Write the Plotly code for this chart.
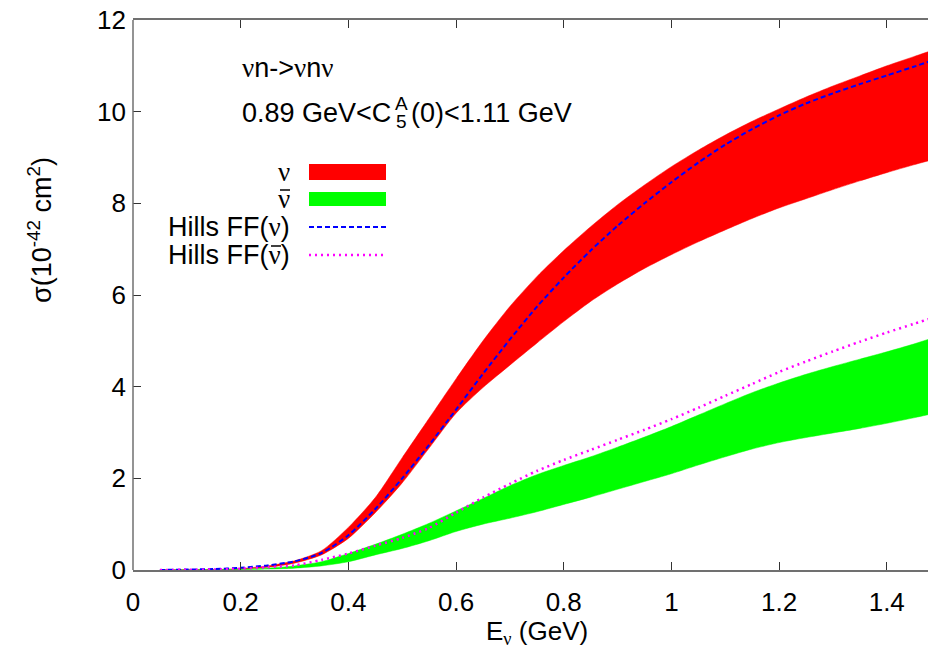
import plotly.graph_objects as go

# ---------------- data ----------------
E = [0.05, 0.10, 0.15, 0.20, 0.25, 0.30, 0.35, 0.40, 0.45, 0.50,
     0.55, 0.60, 0.65, 0.70, 0.75, 0.80, 0.85, 0.90, 0.95, 1.00,
     1.05, 1.10, 1.15, 1.20, 1.25, 1.30, 1.35, 1.40, 1.45, 1.50]

nu_hi = [0.0, 0.003, 0.01, 0.03, 0.09, 0.20, 0.42, 0.93, 1.58, 2.45,
         3.31, 4.17, 5.00, 5.75, 6.40, 6.97, 7.49, 7.97, 8.40, 8.80,
         9.16, 9.49, 9.79, 10.06, 10.32, 10.56, 10.78, 11.00, 11.20, 11.40]
nu_lo = [0.0, 0.002, 0.008, 0.02, 0.06, 0.15, 0.33, 0.69, 1.25, 1.90,
         2.66, 3.42, 3.98, 4.47, 4.95, 5.42, 5.86, 6.24, 6.58, 6.88,
         7.16, 7.42, 7.67, 7.90, 8.10, 8.30, 8.49, 8.67, 8.84, 9.00]
hills_nu = [0.0, 0.01, 0.02, 0.05, 0.10, 0.19, 0.37, 0.76, 1.33, 2.00,
            2.73, 3.50, 4.28, 5.03, 5.74, 6.38, 6.97, 7.51, 8.00, 8.46,
            8.89, 9.28, 9.62, 9.92, 10.18, 10.40, 10.60, 10.79, 10.98, 11.18]

anu_hi = [0.0, 0.002, 0.006, 0.015, 0.04, 0.09, 0.18, 0.36, 0.56, 0.78,
          1.02, 1.29, 1.56, 1.84, 2.08, 2.28, 2.47, 2.68, 2.90, 3.13,
          3.38, 3.63, 3.87, 4.08, 4.27, 4.44, 4.60, 4.76, 4.93, 5.12]
anu_lo = [0.0, 0.001, 0.004, 0.01, 0.02, 0.04, 0.09, 0.18, 0.33, 0.47,
          0.64, 0.84, 1.00, 1.13, 1.27, 1.43, 1.59, 1.76, 1.93, 2.10,
          2.29, 2.47, 2.64, 2.78, 2.89, 2.99, 3.09, 3.20, 3.32, 3.45]
hills_anu = [0.0, 0.005, 0.01, 0.03, 0.06, 0.10, 0.22, 0.36, 0.53, 0.70,
             0.92, 1.25, 1.58, 1.88, 2.16, 2.40, 2.62, 2.84, 3.06, 3.29,
             3.54, 3.80, 4.06, 4.32, 4.55, 4.77, 4.98, 5.18, 5.37, 5.56]

x_ticks = [0, 0.2, 0.4, 0.6, 0.8, 1.0, 1.2, 1.4]
x_ticktext = ["0", "0.2", "0.4", "0.6", "0.8", "1", "1.2", "1.4"]
y_ticks = [0, 2, 4, 6, 8, 10, 12]

# ---------------- layout geometry ----------------
# The page body has an 8px margin, so the figure is drawn 8px smaller and
# everything below is given in screen pixels of the 936x654 window.
OFF = 8
W, H = 936 - OFF, 654 - OFF
L, T, B_PX = 133, 20, 570          # plot-area left, top, bottom (screen pixels)
PW = 936 - L                        # plot-area width
PH = B_PX - T
XMAX = PW / 538.4                   # x axis is cut off by the image edge

def px(xp):
    return (xp - L) / PW

def py(yp):
    return (B_PX - yp) / PH

FONT = "Liberation Sans, Arial, Helvetica, sans-serif"
RED, GREEN, BLUE, MAGENTA = "#ff0000", "#00ff00", "#0000ff", "#ff00ff"
SM = 0.7

fig = go.Figure()

# nu band
fig.add_trace(go.Scatter(x=E, y=nu_lo, mode="lines",
                         line=dict(color=RED, width=0.5, shape="spline", smoothing=SM),
                         showlegend=False, hoverinfo="skip"))
fig.add_trace(go.Scatter(x=E, y=nu_hi, mode="lines",
                         line=dict(color=RED, width=0.5, shape="spline", smoothing=SM),
                         fill="tonexty", fillcolor=RED, showlegend=False, name="ν"))
# anti-nu band
fig.add_trace(go.Scatter(x=E, y=anu_lo, mode="lines",
                         line=dict(color=GREEN, width=0.5, shape="spline", smoothing=SM),
                         showlegend=False, hoverinfo="skip"))
fig.add_trace(go.Scatter(x=E, y=anu_hi, mode="lines",
                         line=dict(color=GREEN, width=0.5, shape="spline", smoothing=SM),
                         fill="tonexty", fillcolor=GREEN, showlegend=False, name="ν̄"))
# Hills FF lines
fig.add_trace(go.Scatter(x=E, y=hills_nu, mode="lines",
                         line=dict(color=BLUE, width=2, dash="5px,3px",
                                   shape="spline", smoothing=SM),
                         showlegend=False, name="Hills FF(ν)"))
fig.add_trace(go.Scatter(x=E, y=hills_anu, mode="lines",
                         line=dict(color=MAGENTA, width=2.5, dash="2px,4px",
                                   shape="spline", smoothing=SM),
                         showlegend=False, name="Hills FF(ν̄)"))

annotations = []

def text(xp, yp, s, size=27, xanchor="left"):
    annotations.append(dict(x=px(xp), y=py(yp), xref="paper", yref="paper", text=s,
                            showarrow=False, xanchor=xanchor, yanchor="middle",
                            font=dict(family=FONT, size=size, color="#000")))

NU = '<span style="font-family:Liberation Serif, serif">ν</span>'

text(240, 68, f"{NU}n-&gt;{NU}n{NU}")
text(240, 113, "0.89 GeV&lt;C")
text(401, 104, "A", size=19, xanchor="center")
text(401, 122, "5", size=19, xanchor="center")
text(409, 113, "(0)&lt;1.11 GeV")

# manual legend (text left of the sample, as in the original)
leg_rows = [172, 199, 227, 255]
text(292, leg_rows[0], NU, xanchor="right")
text(292, leg_rows[1], NU, xanchor="right")
text(292, leg_rows[2], f"Hills FF({NU})", xanchor="right")
text(292, leg_rows[3], f"Hills FF({NU})", xanchor="right")

shapes = [
    dict(type="rect", xref="paper", yref="paper", x0=px(309), x1=px(386),
         y0=py(180), y1=py(164), fillcolor=RED, line=dict(width=0)),
    dict(type="rect", xref="paper", yref="paper", x0=px(309), x1=px(386),
         y0=py(206), y1=py(192), fillcolor=GREEN, line=dict(width=0)),
    dict(type="line", xref="paper", yref="paper", x0=px(309), x1=px(386),
         y0=py(227), y1=py(227), line=dict(color=BLUE, width=2, dash="5px,3px")),
    dict(type="line", xref="paper", yref="paper", x0=px(309), x1=px(386),
         y0=py(255), y1=py(255), line=dict(color=MAGENTA, width=2.5, dash="2px,4px")),
    # overbars of the anti-neutrino symbols
    dict(type="line", xref="paper", yref="paper", x0=px(280), x1=px(290),
         y0=py(leg_rows[1] - 9), y1=py(leg_rows[1] - 9), line=dict(color="#000", width=1.5)),
    dict(type="line", xref="paper", yref="paper", x0=px(271), x1=px(281),
         y0=py(leg_rows[3] - 9), y1=py(leg_rows[3] - 9), line=dict(color="#000", width=1.5)),
    # left border
    dict(type="line", xref="paper", yref="paper", x0=0, x1=0, y0=0, y1=1,
         line=dict(color="#707070", width=1.5)),
]

# axis titles
annotations.append(dict(x=px(40), y=py(230), xref="paper", yref="paper",
                        text="σ(10<sup>-42</sup> cm<sup>2</sup>)", textangle=-90,
                        showarrow=False, xanchor="center", yanchor="middle",
                        font=dict(family=FONT, size=27, color="#000")))
annotations.append(dict(x=px(537), y=py(632), xref="paper", yref="paper",
                        text=f"E<sub>{NU}</sub> (GeV)",
                        showarrow=False, xanchor="center", yanchor="middle",
                        font=dict(family=FONT, size=26, color="#000")))

fig.update_layout(
    width=W, height=H,
    margin=dict(l=L - OFF, r=0, t=T - OFF, b=654 - B_PX, pad=0, autoexpand=False),
    paper_bgcolor="white", plot_bgcolor="white",
    font=dict(family=FONT, size=26, color="#000"),
    annotations=annotations, shapes=shapes,
    showlegend=False,
)
fig.update_xaxes(range=[0, XMAX], tickvals=x_ticks, ticktext=x_ticktext,
                 automargin=False, ticklabeloverflow="allow",
                 showgrid=False, zeroline=False, showline=True, mirror="ticks",
                 linecolor="#707070", linewidth=1.5, ticks="inside", ticklen=8,
                 tickcolor="#333", tickwidth=1, ticklabelstandoff=8)
fig.update_yaxes(range=[0, 12], tickvals=y_ticks, automargin=False,
                 ticklabeloverflow="allow",
                 showgrid=False, zeroline=False, showline=False, mirror="ticks",
                 ticks="inside", ticklen=8, tickcolor="#333", tickwidth=1,
                 ticklabelstandoff=6)

fig.write_html("out.html")
